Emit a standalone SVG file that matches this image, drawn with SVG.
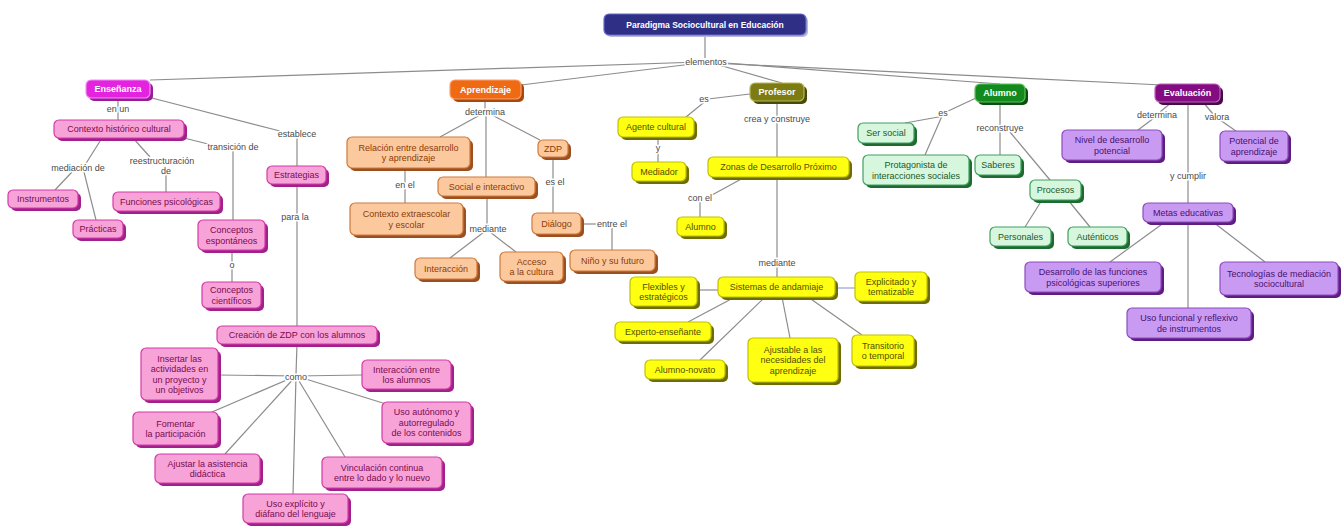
<svg xmlns="http://www.w3.org/2000/svg" width="1341" height="526" viewBox="0 0 1341 526">
<style>
text{font-family:"Liberation Sans",Arial,sans-serif;font-size:9px;text-anchor:middle}
.c line,.c polyline{stroke:#8c8c8c;stroke-width:1.2;fill:none}
.lb{fill:#4a4a4a;stroke:#fff;stroke-width:3;paint-order:stroke;stroke-linejoin:round}
.bx{stroke-width:1.2}
.h text{fill:#fff;font-weight:bold}
.title .bx{fill:#2f2f86;stroke:#6a6ac8}.title .sh{fill:#b8b8d8}
.hp .bx{fill:#e423e0;stroke:#f090f0}.hp .sh{fill:#9a1a9a}
.ho .bx{fill:#f06a14;stroke:#f8a070}.ho .sh{fill:#a8480c}
.hy .bx{fill:#7c7c12;stroke:#b8b860}.hy .sh{fill:#4a4a08}
.hg .bx{fill:#128a1e;stroke:#60c060}.hg .sh{fill:#0a5010}
.hv .bx{fill:#820c80;stroke:#c060c0}.hv .sh{fill:#4a0848}
.pk .bx{fill:#f7a3d8;stroke:#d63aa8}.pk .sh{fill:#a0208c}.pk text{fill:#7a0a50}
.or .bx{fill:#fcc99e;stroke:#d07a3a}.or .sh{fill:#9a5020}.or text{fill:#8a3c08}
.ye .bx{fill:#ffff12;stroke:#c0c000}.ye .sh{fill:#6e6e00}.ye text{fill:#505000}
.gr .bx{fill:#d6f6de;stroke:#40a060}.gr .sh{fill:#1e6a30}.gr text{fill:#1a5a2a}
.pu .bx{fill:#c99af2;stroke:#8e4cc0}.pu .sh{fill:#5e1e80}.pu text{fill:#4a1070}
</style>
<rect width="1341" height="526" fill="#fff"/>
<g id="connectors" class="c">
<line x1="705" y1="35" x2="705" y2="58"/>
<line x1="700" y1="62" x2="150" y2="80"/>
<line x1="700" y1="63" x2="521" y2="85"/>
<line x1="712" y1="63" x2="782" y2="83"/>
<line x1="712" y1="62" x2="1000" y2="84"/>
<line x1="712" y1="63" x2="1162" y2="85"/>
<line x1="118" y1="98" x2="118" y2="120"/>
<polyline points="148,97 280,131"/>
<line x1="297" y1="138" x2="297" y2="166"/>
<polyline points="184,138 212,145"/>
<line x1="233" y1="151" x2="233" y2="220"/>
<line x1="102" y1="138" x2="85" y2="165"/>
<line x1="72" y1="172" x2="55" y2="190"/>
<line x1="84" y1="172" x2="96" y2="220"/>
<line x1="133" y1="138" x2="150" y2="157"/>
<line x1="166" y1="175" x2="166" y2="192"/>
<line x1="232" y1="250" x2="232" y2="282"/>
<line x1="297" y1="184" x2="297" y2="326"/>
<line x1="297" y1="344" x2="296" y2="374"/>
<line x1="296" y1="376" x2="218" y2="375"/>
<line x1="296" y1="376" x2="362" y2="375"/>
<line x1="296" y1="376" x2="212" y2="412"/>
<line x1="296" y1="376" x2="386" y2="404"/>
<line x1="296" y1="376" x2="225" y2="454"/>
<line x1="296" y1="376" x2="345" y2="457"/>
<line x1="296" y1="376" x2="293" y2="495"/>
<line x1="485" y1="99" x2="485" y2="110"/>
<line x1="480" y1="115" x2="440" y2="137"/>
<line x1="486" y1="115" x2="486" y2="177"/>
<line x1="492" y1="115" x2="540" y2="140"/>
<line x1="405" y1="168" x2="405" y2="203"/>
<line x1="487" y1="196" x2="487" y2="226"/>
<line x1="484" y1="232" x2="450" y2="258"/>
<line x1="490" y1="232" x2="516" y2="252"/>
<line x1="553" y1="157" x2="553" y2="213"/>
<line x1="581" y1="224" x2="598" y2="224"/>
<line x1="612" y1="228" x2="612" y2="250"/>
<polyline points="750,94 708,99 686,117"/>
<line x1="658" y1="137" x2="658" y2="162"/>
<line x1="777" y1="101" x2="777" y2="157"/>
<polyline points="745,177 712,195"/>
<line x1="700" y1="202" x2="700" y2="217"/>
<line x1="777" y1="177" x2="777" y2="277"/>
<line x1="697" y1="290" x2="718" y2="290"/>
<line x1="835" y1="288" x2="855" y2="288" style="stroke:#9aa0d8"/>
<line x1="735" y1="297" x2="688" y2="322"/>
<line x1="765" y1="297" x2="700" y2="360"/>
<line x1="782" y1="297" x2="790" y2="338"/>
<line x1="808" y1="297" x2="862" y2="335"/>
<polyline points="976,98 946,112"/>
<line x1="944" y1="116" x2="905" y2="123"/>
<line x1="942" y1="116" x2="925" y2="155"/>
<line x1="1000" y1="102" x2="1000" y2="155"/>
<line x1="1010" y1="132" x2="1050" y2="180"/>
<line x1="1042" y1="200" x2="1025" y2="227"/>
<line x1="1068" y1="200" x2="1090" y2="227"/>
<line x1="1172" y1="102" x2="1160" y2="112"/>
<line x1="1154" y1="118" x2="1138" y2="130"/>
<line x1="1203" y1="102" x2="1213" y2="114"/>
<line x1="1220" y1="120" x2="1236" y2="131"/>
<line x1="1188" y1="102" x2="1188" y2="308"/>
<line x1="1165" y1="222" x2="1110" y2="262"/>
<line x1="1213" y1="222" x2="1265" y2="262"/>
</g>
<g id="labels">
<text class="lb" x="706" y="65">elementos</text>
<text class="lb" x="118" y="112">en un</text>
<text class="lb" x="233" y="150">transición de</text>
<text class="lb" x="78" y="171">mediación de</text>
<text class="lb" x="162" y="164">reestructuración</text>
<text class="lb" x="166" y="174">de</text>
<text class="lb" x="297" y="137">establece</text>
<text class="lb" x="295" y="220">para la</text>
<text class="lb" x="232" y="268">o</text>
<text class="lb" x="296" y="380">como</text>
<text class="lb" x="485" y="115">determina</text>
<text class="lb" x="405" y="188">en el</text>
<text class="lb" x="488" y="232">mediante</text>
<text class="lb" x="555" y="185">es el</text>
<text class="lb" x="612" y="227">entre el</text>
<text class="lb" x="704" y="102">es</text>
<text class="lb" x="658" y="151">y</text>
<text class="lb" x="777" y="122">crea y construye</text>
<text class="lb" x="700" y="201">con el</text>
<text class="lb" x="777" y="266">mediante</text>
<text class="lb" x="943" y="116">es</text>
<text class="lb" x="1000" y="131">reconstruye</text>
<text class="lb" x="1157" y="118">determina</text>
<text class="lb" x="1217" y="120">valora</text>
<text class="lb" x="1188" y="179">y cumplir</text>
</g>
<g id="n-title" class="h title"><rect class="sh" x="606" y="16" width="202" height="21" rx="5"/><rect class="bx" x="604" y="14" width="202" height="21" rx="5"/><text x="705" y="28" style="font-size:8.5px">Paradigma Sociocultural en Educación</text></g>
<g id="n-ensenanza" class="h hp"><rect class="sh" x="89" y="83" width="64" height="18" rx="5"/><rect class="bx" x="86" y="80" width="64" height="18" rx="5"/><text x="118" y="92">Enseñanza</text></g>
<g id="n-aprendizaje" class="h ho"><rect class="sh" x="453" y="83" width="71" height="19" rx="5"/><rect class="bx" x="450" y="80" width="71" height="19" rx="5"/><text x="485.5" y="92.7">Aprendizaje</text></g>
<g id="n-profesor" class="h hy"><rect class="sh" x="753" y="86" width="54" height="18" rx="5"/><rect class="bx" x="750" y="83" width="54" height="18" rx="5"/><text x="777" y="95">Profesor</text></g>
<g id="n-alumno" class="h hg"><rect class="sh" x="978" y="87" width="50" height="18" rx="5"/><rect class="bx" x="975" y="84" width="50" height="18" rx="5"/><text x="1000" y="96">Alumno</text></g>
<g id="n-evaluacion" class="h hv"><rect class="sh" x="1158" y="87" width="65" height="18" rx="5"/><rect class="bx" x="1155" y="84" width="65" height="18" rx="5"/><text x="1187.5" y="96">Evaluación</text></g>
<g id="n-contexto" class="pk"><rect class="sh" x="57" y="123" width="130" height="18" rx="5"/><rect class="bx" x="54" y="120" width="130" height="18" rx="5"/><text x="119" y="132">Contexto histórico cultural</text></g>
<g id="n-instrumentos" class="pk"><rect class="sh" x="11" y="193" width="70" height="18" rx="5"/><rect class="bx" x="8" y="190" width="70" height="18" rx="5"/><text x="43" y="202">Instrumentos</text></g>
<g id="n-practicas" class="pk"><rect class="sh" x="76" y="223" width="50" height="18" rx="5"/><rect class="bx" x="73" y="220" width="50" height="18" rx="5"/><text x="98" y="232">Prácticas</text></g>
<g id="n-funciones" class="pk"><rect class="sh" x="116" y="195" width="107" height="19" rx="5"/><rect class="bx" x="113" y="192" width="107" height="19" rx="5"/><text x="166.5" y="204.7">Funciones psicológicas</text></g>
<g id="n-espontaneos" class="pk"><rect class="sh" x="201" y="223" width="67" height="30" rx="5"/><rect class="bx" x="198" y="220" width="67" height="30" rx="5"/><text x="231.5" y="233">Conceptos</text><text x="231.5" y="243.5">espontáneos</text></g>
<g id="n-cientificos" class="pk"><rect class="sh" x="205" y="285" width="59" height="26" rx="5"/><rect class="bx" x="202" y="282" width="59" height="26" rx="5"/><text x="231.5" y="293">Conceptos</text><text x="231.5" y="303.5">científicos</text></g>
<g id="n-estrategias" class="pk"><rect class="sh" x="270" y="169" width="59" height="18" rx="5"/><rect class="bx" x="267" y="166" width="59" height="18" rx="5"/><text x="296.5" y="178">Estrategias</text></g>
<g id="n-creacion" class="pk"><rect class="sh" x="220" y="329" width="160" height="18" rx="5"/><rect class="bx" x="217" y="326" width="160" height="18" rx="5"/><text x="297" y="338">Creación de ZDP con los alumnos</text></g>
<g id="n-insertar" class="pk"><rect class="sh" x="144" y="351" width="77" height="52" rx="5"/><rect class="bx" x="141" y="348" width="77" height="52" rx="5"/><text x="179.5" y="361.5">Insertar las</text><text x="179.5" y="372">actividades en</text><text x="179.5" y="382.5">un proyecto y</text><text x="179.5" y="393">un objetivos</text></g>
<g id="n-interaccion-alumnos" class="pk"><rect class="sh" x="365" y="363" width="89" height="29" rx="5"/><rect class="bx" x="362" y="360" width="89" height="29" rx="5"/><text x="406.5" y="372.5">Interacción entre</text><text x="406.5" y="383">los alumnos</text></g>
<g id="n-fomentar" class="pk"><rect class="sh" x="136" y="415" width="85" height="33" rx="5"/><rect class="bx" x="133" y="412" width="85" height="33" rx="5"/><text x="175.5" y="426.5">Fomentar</text><text x="175.5" y="437">la participación</text></g>
<g id="n-uso-autonomo" class="pk"><rect class="sh" x="385" y="405" width="89" height="41" rx="5"/><rect class="bx" x="382" y="402" width="89" height="41" rx="5"/><text x="426.5" y="415.2">Uso autónomo y</text><text x="426.5" y="425.7">autorregulado</text><text x="426.5" y="436.2">de los contenidos</text></g>
<g id="n-ajustar" class="pk"><rect class="sh" x="158" y="457" width="105" height="29" rx="5"/><rect class="bx" x="155" y="454" width="105" height="29" rx="5"/><text x="207.5" y="466.5">Ajustar la asistencia</text><text x="207.5" y="477">didáctica</text></g>
<g id="n-vinculacion" class="pk"><rect class="sh" x="325" y="460" width="120" height="31" rx="5"/><rect class="bx" x="322" y="457" width="120" height="31" rx="5"/><text x="382" y="470.5">Vinculación continua</text><text x="382" y="481">entre lo dado y lo nuevo</text></g>
<g id="n-uso-explicito" class="pk"><rect class="sh" x="246" y="497" width="105" height="29" rx="5"/><rect class="bx" x="243" y="494" width="105" height="29" rx="5"/><text x="295.5" y="506.5">Uso explícito y</text><text x="295.5" y="517">diáfano del lenguaje</text></g>
<g id="n-relacion" class="or"><rect class="sh" x="350" y="140" width="123" height="31" rx="5"/><rect class="bx" x="347" y="137" width="123" height="31" rx="5"/><text x="408.5" y="150.5">Relación entre desarrollo</text><text x="408.5" y="161">y aprendizaje</text></g>
<g id="n-social" class="or"><rect class="sh" x="441" y="180" width="97" height="19" rx="5"/><rect class="bx" x="438" y="177" width="97" height="19" rx="5"/><text x="486.5" y="189.7">Social e interactivo</text></g>
<g id="n-zdp" class="or"><rect class="sh" x="541" y="143" width="30" height="17" rx="5"/><rect class="bx" x="538" y="140" width="30" height="17" rx="5"/><text x="553" y="151.7">ZDP</text></g>
<g id="n-extraescolar" class="or"><rect class="sh" x="353" y="206" width="113" height="32" rx="5"/><rect class="bx" x="350" y="203" width="113" height="32" rx="5"/><text x="406.5" y="217">Contexto extraescolar</text><text x="406.5" y="227.5">y escolar</text></g>
<g id="n-interaccion" class="or"><rect class="sh" x="418" y="261" width="62" height="21" rx="5"/><rect class="bx" x="415" y="258" width="62" height="21" rx="5"/><text x="446" y="271.7">Interacción</text></g>
<g id="n-acceso" class="or"><rect class="sh" x="503" y="255" width="63" height="29" rx="5"/><rect class="bx" x="500" y="252" width="63" height="29" rx="5"/><text x="531.5" y="264.5">Acceso</text><text x="531.5" y="275">a la cultura</text></g>
<g id="n-dialogo" class="or"><rect class="sh" x="535" y="216" width="49" height="21" rx="5"/><rect class="bx" x="532" y="213" width="49" height="21" rx="5"/><text x="556.5" y="226.7">Diálogo</text></g>
<g id="n-nino" class="or"><rect class="sh" x="573" y="253" width="85" height="21" rx="5"/><rect class="bx" x="570" y="250" width="85" height="21" rx="5"/><text x="612.5" y="263.7">Niño y su futuro</text></g>
<g id="n-agente" class="ye"><rect class="sh" x="621" y="120" width="76" height="20" rx="5"/><rect class="bx" x="618" y="117" width="76" height="20" rx="5"/><text x="656" y="130.2">Agente cultural</text></g>
<g id="n-mediador" class="ye"><rect class="sh" x="635" y="165" width="54" height="19" rx="5"/><rect class="bx" x="632" y="162" width="54" height="19" rx="5"/><text x="659" y="174.7">Mediador</text></g>
<g id="n-zonas" class="ye"><rect class="sh" x="711" y="160" width="141" height="20" rx="5"/><rect class="bx" x="708" y="157" width="141" height="20" rx="5"/><text x="778.5" y="170.2">Zonas de Desarrollo Próximo</text></g>
<g id="n-alumno-y" class="ye"><rect class="sh" x="680" y="220" width="47" height="19" rx="5"/><rect class="bx" x="677" y="217" width="47" height="19" rx="5"/><text x="700.5" y="229.7">Alumno</text></g>
<g id="n-sistemas" class="ye"><rect class="sh" x="721" y="280" width="117" height="20" rx="5"/><rect class="bx" x="718" y="277" width="117" height="20" rx="5"/><text x="776.5" y="290.2">Sistemas de andamiaje</text></g>
<g id="n-flexibles" class="ye"><rect class="sh" x="633" y="280" width="67" height="29" rx="5"/><rect class="bx" x="630" y="277" width="67" height="29" rx="5"/><text x="663.5" y="289.5">Flexibles y</text><text x="663.5" y="300">estratégicos</text></g>
<g id="n-explicitado" class="ye"><rect class="sh" x="858" y="275" width="72" height="29" rx="5"/><rect class="bx" x="855" y="272" width="72" height="29" rx="5"/><text x="891" y="284.5">Explicitado y</text><text x="891" y="295">tematizable</text></g>
<g id="n-experto" class="ye"><rect class="sh" x="618" y="325" width="96" height="19" rx="5"/><rect class="bx" x="615" y="322" width="96" height="19" rx="5"/><text x="663" y="334.7">Experto-enseñante</text></g>
<g id="n-novato" class="ye"><rect class="sh" x="648" y="363" width="80" height="19" rx="5"/><rect class="bx" x="645" y="360" width="80" height="19" rx="5"/><text x="685" y="372.7">Alumno-novato</text></g>
<g id="n-ajustable" class="ye"><rect class="sh" x="751" y="341" width="90" height="44" rx="5"/><rect class="bx" x="748" y="338" width="90" height="44" rx="5"/><text x="793" y="352.7">Ajustable a las</text><text x="793" y="363.2">necesidades del</text><text x="793" y="373.7">aprendizaje</text></g>
<g id="n-transitorio" class="ye"><rect class="sh" x="855" y="338" width="62" height="31" rx="5"/><rect class="bx" x="852" y="335" width="62" height="31" rx="5"/><text x="883" y="348.5">Transitorio</text><text x="883" y="359">o temporal</text></g>
<g id="n-ser-social" class="gr"><rect class="sh" x="861" y="126" width="56" height="20" rx="5"/><rect class="bx" x="858" y="123" width="56" height="20" rx="5"/><text x="886" y="136.2">Ser social</text></g>
<g id="n-protagonista" class="gr"><rect class="sh" x="866" y="158" width="106" height="30" rx="5"/><rect class="bx" x="863" y="155" width="106" height="30" rx="5"/><text x="916" y="168">Protagonista de</text><text x="916" y="178.5">interacciones sociales</text></g>
<g id="n-saberes" class="gr"><rect class="sh" x="978" y="158" width="46" height="20" rx="5"/><rect class="bx" x="975" y="155" width="46" height="20" rx="5"/><text x="998" y="168.2">Saberes</text></g>
<g id="n-procesos" class="gr"><rect class="sh" x="1033" y="183" width="51" height="20" rx="5"/><rect class="bx" x="1030" y="180" width="51" height="20" rx="5"/><text x="1055.5" y="193.2">Procesos</text></g>
<g id="n-personales" class="gr"><rect class="sh" x="993" y="230" width="61" height="19" rx="5"/><rect class="bx" x="990" y="227" width="61" height="19" rx="5"/><text x="1020.5" y="239.7">Personales</text></g>
<g id="n-autenticos" class="gr"><rect class="sh" x="1071" y="230" width="59" height="19" rx="5"/><rect class="bx" x="1068" y="227" width="59" height="19" rx="5"/><text x="1097.5" y="239.7">Auténticos</text></g>
<g id="n-nivel" class="pu"><rect class="sh" x="1065" y="133" width="100" height="30" rx="5"/><rect class="bx" x="1062" y="130" width="100" height="30" rx="5"/><text x="1112" y="143">Nivel de desarrollo</text><text x="1112" y="153.5">potencial</text></g>
<g id="n-potencial" class="pu"><rect class="sh" x="1223" y="134" width="68" height="30" rx="5"/><rect class="bx" x="1220" y="131" width="68" height="30" rx="5"/><text x="1254" y="144">Potencial de</text><text x="1254" y="154.5">aprendizaje</text></g>
<g id="n-metas" class="pu"><rect class="sh" x="1146" y="206" width="90" height="19" rx="5"/><rect class="bx" x="1143" y="203" width="90" height="19" rx="5"/><text x="1188" y="215.7">Metas educativas</text></g>
<g id="n-desarrollo" class="pu"><rect class="sh" x="1028" y="265" width="136" height="30" rx="5"/><rect class="bx" x="1025" y="262" width="136" height="30" rx="5"/><text x="1093" y="275">Desarrollo de las funciones</text><text x="1093" y="285.5">psicológicas superiores</text></g>
<g id="n-uso-funcional" class="pu"><rect class="sh" x="1130" y="311" width="124" height="30" rx="5"/><rect class="bx" x="1127" y="308" width="124" height="30" rx="5"/><text x="1189" y="321">Uso funcional y reflexivo</text><text x="1189" y="331.5">de instrumentos</text></g>
<g id="n-tecnologias" class="pu"><rect class="sh" x="1223" y="265" width="118" height="33" rx="5"/><rect class="bx" x="1220" y="262" width="118" height="33" rx="5"/><text x="1279" y="276.5">Tecnologías de mediación</text><text x="1279" y="287">sociocultural</text></g>
</svg>
